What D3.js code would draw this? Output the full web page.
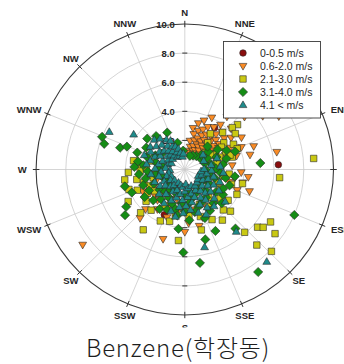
<!DOCTYPE html>
<html>
<head>
<meta charset="utf-8">
<script src="https://cdn.jsdelivr.net/npm/d3@7"></script>
<style>
  html, body { margin: 0; padding: 0; background: #fff; }
  svg { display: block; }
</style>
</head>
<body>
<svg id="chart" width="344" height="364"></svg>
<script>
// Compass sectors, radial rings and legend entries
const directions = ["N","NNE","NE","ENE","E","ESE","SE","SSE","S","SSW","SW","WSW","W","WNW","NW","NNW"];
const ringValues = [2, 4, 6, 8, 10];
const ringLabels = ["2.0", "4.0", "6.0", "8.0", "10.0"];
const speedClasses = ["0-0.5 m/s", "0.6-2.0 m/s", "2.1-3.0 m/s", "3.1-4.0 m/s", "4.1 < m/s"];
const chartTitle = "Benzene(학장동)";

// Observations per wind-speed class: [wind direction (deg), concentration]
const calm = [[35,3.5],[87,6.3],[204,3.4],[205,1.4],[318,1.2]];

const light = [
  [8,1.3],[10,2.0],[11,2.9],[13,1.6],[14,2.5],[16,3.3],[17,1.2],[18,2.1],[19,2.8],[20,1.7],
  [21,3.6],[22,2.3],[23,1.4],[24,3.0],[25,1.9],[26,2.6],[27,4.0],[27,1.5],[28,3.3],[29,2.2],
  [30,1.8],[31,2.8],[32,1.3],[33,2.4],[34,3.5],[35,2.0],[36,1.6],[37,2.9],[38,4.6],[38,3.9],
  [39,2.3],[40,1.9],[41,3.2],[42,2.6],[43,1.4],[44,3.6],[45,2.2],[46,2.9],[47,1.8],[48,5.4],
  [48,4.2],[50,2.5],[51,3.4],[52,1.6],[53,2.9],[54,2.2],[55,6.4],[55,3.8],[57,2.7],[58,1.9],
  [60,7.3],[60,4.4],[62,2.4],[64,3.4],[66,1.7],[68,4.1],[70,2.9],[71,4.9],[73,2.2],[75,3.6],
  [77,4.5],[79,6.3],[82,2.6],[85,3.2],[45,6.6],[52,7.4],[40,6.9],[58,8.2],
  [93,3.8],[97,4.3],[100,3.4],[103,4.0],[109,4.6],[106,3.1],[112,3.8],
  [166,4.0],[176,3.7],[180,4.3],[197,5.0],[204,2.9],[208,2.3],[195,2.1],[221,2.8],[221,2.1],
  [229,2.7],[222,4.5],[224,3.8],[233,8.6],[186,2.5],[190,3.0],[170,2.8],[160,3.5],[150,3.0],
  [214,3.3],[240,2.4],[250,2.0],[200,3.5],[242,3.2]
];

const moderate = [
  [85,8.7],[95,6.4],[122,6.8],[129,6.3],[127,6.6],[126,7.5],[137,7.1],[134,8.1],[137,5.9],
  [133,4.2],[137,3.8],[162,3.4],[185,4.9],
  [267,3.8],[269,3.0],[263,2.4],[266,1.9],[246,3.5],[237,3.0],[245,2.6],[240,4.4],[219,3.6],
  [214,5.0],[196,3.7],[276,3.2],[258,3.3],[252,2.9],[250,4.0],[230,3.4],[225,4.2],[208,2.8],
  [205,3.9],[192,3.1],[260,4.1],[273,2.6],[280,3.5],[284,2.4],[226,2.4],[255,2.2],[234,2.5],
  [175,3.2],[170,2.2],[158,2.6],[152,3.9],[148,3.0],[144,4.3],[130,3.1],[126,3.6],[120,2.7],
  [116,3.9],[112,2.4],[108,3.3],[104,4.0],[100,2.6],[96,3.0],[140,2.5],[165,4.3],[180,2.6],
  [49,4.7],[48,4.3],[54,4.2],[55,3.2],[62,3.7],[63,2.3],[45,3.6],[58,2.9],[66,3.0],[50,1.8],
  [70,2.5],[75,3.3],[80,2.2],[42,5.8],[50,6.0],[68,3.8],[72,3.2],[60,2.0],[40,2.4],[35,3.0]
];

const fresh = [
  [292,6.0],[288,5.7],[289,4.6],[292,4.2],[290,3.4],[280,3.2],[289,2.7],[273,3.4],[254,4.2],
  [246,3.9],[232,5.1],[237,4.7],[186,4.1],[181,5.7],[171,6.5],[164,5.0],[154,4.7],[140,5.3],
  [113,8.0],[145,8.6],[98,3.4],[70,3.6],[85,5.1],
  [296,2.2],[300,3.0],[284,2.0],[278,1.5],[276,2.8],[270,1.8],[267,2.5],[264,3.1],[260,2.0],
  [257,2.7],[252,1.6],[249,3.0],[245,2.3],[242,1.4],[239,2.8],[235,3.3],[231,2.2],[228,1.5],
  [225,3.0],[221,2.0],[218,2.6],[215,1.7],[212,3.2],[209,2.2],[206,1.5],[203,3.0],[200,2.5],
  [197,1.8],[193,2.8],[189,3.2],[185,2.3],
  [180,2.9],[177,1.8],[175,3.5],[172,2.3],[169,1.5],[167,3.0],[164,2.0],[160,2.7],[158,3.6],
  [156,1.8],[152,2.5],[149,3.3],[147,1.6],[143,2.4],[140,3.0],[136,2.0],[133,3.4],[130,1.4],
  [127,2.6],[124,3.1],[121,1.9],[117,2.9],[114,1.5],[110,3.2],[106,2.1],[102,2.8],[99,1.7],
  [95,2.4],[91,1.4],[88,2.1],
  [82,2.6],[78,1.8],[75,2.9],[72,1.4],[68,2.3],[65,3.1],[62,1.7],[58,2.6],[55,1.3],[52,2.0],
  [48,1.5],[44,2.2],[40,1.2],[30,1.1],[20,1.0],
  [355,1.3],[345,1.9],[335,2.8],[320,3.0],[310,3.3],[305,1.9]
];

const strong = [
  [282,1.8],[285,2.4],[287,1.2],[290,2.9],[292,1.6],[294,2.2],[296,1.0],[298,2.6],[300,1.9],
  [302,1.3],[304,2.8],[305,4.2],[297,5.7],[306,2.1],[308,1.5],[310,2.5],[312,1.1],[313,1.9],
  [315,2.9],[317,1.4],[318,2.3],[320,1.7],[322,2.7],[324,1.2],[325,2.0],[327,1.5],[329,2.4],
  [330,1.0],[332,1.8],[334,2.2],[336,1.3],[338,1.7],[340,1.0],[343,1.5],[346,1.2],[350,0.9],
  [355,1.1],[275,1.3],[272,2.0],[278,2.6],[268,1.0],[265,1.6],[262,2.3],
  [258,1.1],[255,1.8],[250,1.3],[247,2.2],[243,1.0],[240,1.6],[236,2.0],[233,1.2],[230,1.7],
  [226,2.4],[223,1.0],[220,1.5],
  [217,2.1],[214,1.3],[211,2.7],[208,1.7],[205,1.0],[203,2.3],[200,1.5],[198,3.0],[196,2.0],
  [194,1.1],[191,3.3],[190,1.7],[188,2.6],[186,1.2],[184,2.1],[182,3.0],[180,1.5],[178,2.5],
  [176,1.0],[174,1.9],[172,2.8],[170,1.3],[168,2.3],[166,5.5],[165,1.7],[163,3.1],[161,2.0],
  [159,1.2],[157,2.6],[155,3.4],[153,1.6],[151,2.2],[150,3.0],
  [148,1.3],[146,2.5],[144,1.8],[142,3.2],[141,5.5],[139,8.4],[139,2.1],[137,1.2],[135,2.8],
  [133,1.6],[131,2.3],[129,3.5],[127,1.1],[125,1.9],[122,2.7],[120,1.4],[118,2.2],[115,1.0],
  [112,1.7],[110,2.5],[107,1.2],[104,2.0],[100,1.5],[96,1.1],[92,1.8],[88,1.3],
  [65,1.4],[80,1.8],[70,2.3],[50,1.6],[85,2.4],[95,2.6]
];

// ---- layout ----
const cx = 184.8, cy = 169.5;     // plot centre
const RX = 148.7, RY = 145.5;     // outer ring radii
const legendBox = { x: 223.5, y: 41.5, w: 97, h: 76.5 };
const svg = d3.select("#chart");

const rScale = d3.scaleLinear().domain([0, 10]).range([0, 1]);
const aScale = d3.scaleLinear().domain([0, 360]).range([0, 2 * Math.PI]);
const px = (deg, v) => cx + rScale(v) * RX * Math.sin(aScale(deg));
const py = (deg, v) => cy - rScale(v) * RY * Math.cos(aScale(deg));

const gridColor = "#cacaca";
const inkColor = "#262626";

svg.append("defs").append("clipPath").attr("id", "plotArea")
  .append("rect").attr("x", 0).attr("y", 0).attr("width", 344).attr("height", 327.5);

// ---- grid ----
const grid = svg.append("g");
grid.selectAll("line.spoke")
  .data(directions)
  .join("line")
  .attr("x1", cx).attr("y1", cy)
  .attr("x2", (d, i) => px(i * 22.5, 10))
  .attr("y2", (d, i) => py(i * 22.5, 10))
  .attr("stroke", gridColor).attr("stroke-width", 0.8);

grid.selectAll("ellipse")
  .data(ringValues)
  .join("ellipse")
  .attr("cx", cx).attr("cy", cy)
  .attr("rx", d => rScale(d) * RX)
  .attr("ry", d => rScale(d) * RY)
  .attr("fill", "none")
  .attr("stroke", d => d === 10 ? "#3a3a3a" : gridColor)
  .attr("stroke-width", d => d === 10 ? 1.1 : 0.8);

// direction ticks across the outer ring
grid.selectAll("line.dtick")
  .data(directions)
  .join("line")
  .attr("x1", (d, i) => px(i * 22.5, 9.78))
  .attr("y1", (d, i) => py(i * 22.5, 9.78))
  .attr("x2", (d, i) => px(i * 22.5, 10.22))
  .attr("y2", (d, i) => py(i * 22.5, 10.22))
  .attr("stroke", "#333").attr("stroke-width", 1);

// radial value ticks on the N-S axis
[0, 180].forEach(ang => {
  grid.selectAll(null)
    .data(ringValues.slice(0, 4))
    .join("line")
    .attr("x1", d => px(ang, d) - 2.5).attr("x2", d => px(ang, d) + 2.5)
    .attr("y1", d => py(ang, d)).attr("y2", d => py(ang, d))
    .attr("stroke", "#333").attr("stroke-width", 1);
});

// ring value labels
svg.append("g").selectAll("text")
  .data(ringValues)
  .join("text")
  .attr("x", cx - 10)
  .attr("y", d => py(0, d))
  .attr("text-anchor", "end")
  .attr("dominant-baseline", "central")
  .attr("font-family", "Liberation Sans, Arial, sans-serif")
  .attr("font-weight", "bold")
  .attr("font-size", 9.5)
  .attr("fill", inkColor)
  .text((d, i) => ringLabels[i]);

// compass labels (the one falling under the legend box is left out)
const labelWidth = s => s.length * 7.6;
const compass = directions.map((d, i) => {
  const deg = i * 22.5, t = aScale(deg), s = Math.sin(t);
  return {
    name: d,
    x: px(deg, 10) + s * Math.abs(s) * (10 + labelWidth(d) / 2),
    y: py(deg, 10) - Math.cos(t) * 12
  };
}).filter(p => !(p.x > legendBox.x && p.x < legendBox.x + legendBox.w &&
                 p.y > legendBox.y && p.y < legendBox.y + legendBox.h));

svg.append("g").attr("clip-path", "url(#plotArea)")
  .selectAll("text")
  .data(compass)
  .join("text")
  .attr("x", d => d.x)
  .attr("y", d => d.y)
  .attr("text-anchor", "middle")
  .attr("dominant-baseline", "central")
  .attr("font-family", "Liberation Sans, Arial, sans-serif")
  .attr("font-weight", "bold")
  .attr("font-size", 9.5)
  .attr("fill", inkColor)
  .text(d => d.name);

// ---- marker shapes ----
const triDown = { draw(ctx, size) { const k = Math.sqrt(size) / 7;
  ctx.moveTo(-3.9 * k, -2.6 * k); ctx.lineTo(3.9 * k, -2.6 * k); ctx.lineTo(0, 4.1 * k); ctx.closePath(); } };
const triUp = { draw(ctx, size) { const k = Math.sqrt(size) / 7;
  ctx.moveTo(0, -4.1 * k); ctx.lineTo(3.9 * k, 2.6 * k); ctx.lineTo(-3.9 * k, 2.6 * k); ctx.closePath(); } };
const diamond = { draw(ctx, size) { const k = Math.sqrt(size) / 7;
  ctx.moveTo(0, -4.6 * k); ctx.lineTo(4.6 * k, 0); ctx.lineTo(0, 4.6 * k); ctx.lineTo(-4.6 * k, 0); ctx.closePath(); } };

const seriesList = [
  { name: speedClasses[0], data: calm,     type: d3.symbolCircle, size: 34, fill: "#8a0d0d" },
  { name: speedClasses[1], data: light,    type: triDown,         size: 49, fill: "#f98b25" },
  { name: speedClasses[2], data: moderate, type: d3.symbolSquare, size: 42, fill: "#c9c812" },
  { name: speedClasses[3], data: fresh,    type: diamond,         size: 49, fill: "#158c15" },
  { name: speedClasses[4], data: strong,   type: triUp,           size: 49, fill: "#1f8b8b" }
];

const marks = svg.append("g");
seriesList.forEach(s => {
  const sym = d3.symbol().type(s.type).size(s.size);
  marks.append("g").selectAll("path")
    .data(s.data)
    .join("path")
    .attr("transform", d => `translate(${px(d[0], d[1])},${py(d[0], d[1])})`)
    .attr("d", sym())
    .attr("fill", s.fill)
    .attr("stroke", "#2a2a2a")
    .attr("stroke-width", 0.6);
});

// ---- legend ----
const legend = svg.append("g");
legend.append("rect")
  .attr("x", legendBox.x).attr("y", legendBox.y)
  .attr("width", legendBox.w).attr("height", legendBox.h)
  .attr("fill", "#fff")
  .attr("stroke", "#3a3a3a").attr("stroke-width", 0.9);
const rows = legend.selectAll("g.row")
  .data(seriesList)
  .join("g")
  .attr("transform", (d, i) => `translate(243,${53 + i * 13})`);
rows.append("path")
  .attr("d", d => d3.symbol().type(d.type).size(d.size)())
  .attr("fill", d => d.fill)
  .attr("stroke", "#2a2a2a").attr("stroke-width", 0.6);
rows.append("text")
  .attr("x", 17)
  .attr("dominant-baseline", "central")
  .attr("font-family", "Liberation Sans, Arial, sans-serif")
  .attr("font-size", 10.5)
  .attr("fill", inkColor)
  .text(d => d.name);

// ---- title ----
svg.append("text")
  .attr("x", 178).attr("y", 357)
  .attr("text-anchor", "middle")
  .attr("font-family", "Noto Sans CJK KR, Noto Sans, sans-serif")
  .attr("font-weight", 300)
  .attr("font-size", 24)
  .attr("letter-spacing", 0.8)
  .attr("fill", "#1e1e1e")
  .text(chartTitle);
</script>
</body>
</html>
